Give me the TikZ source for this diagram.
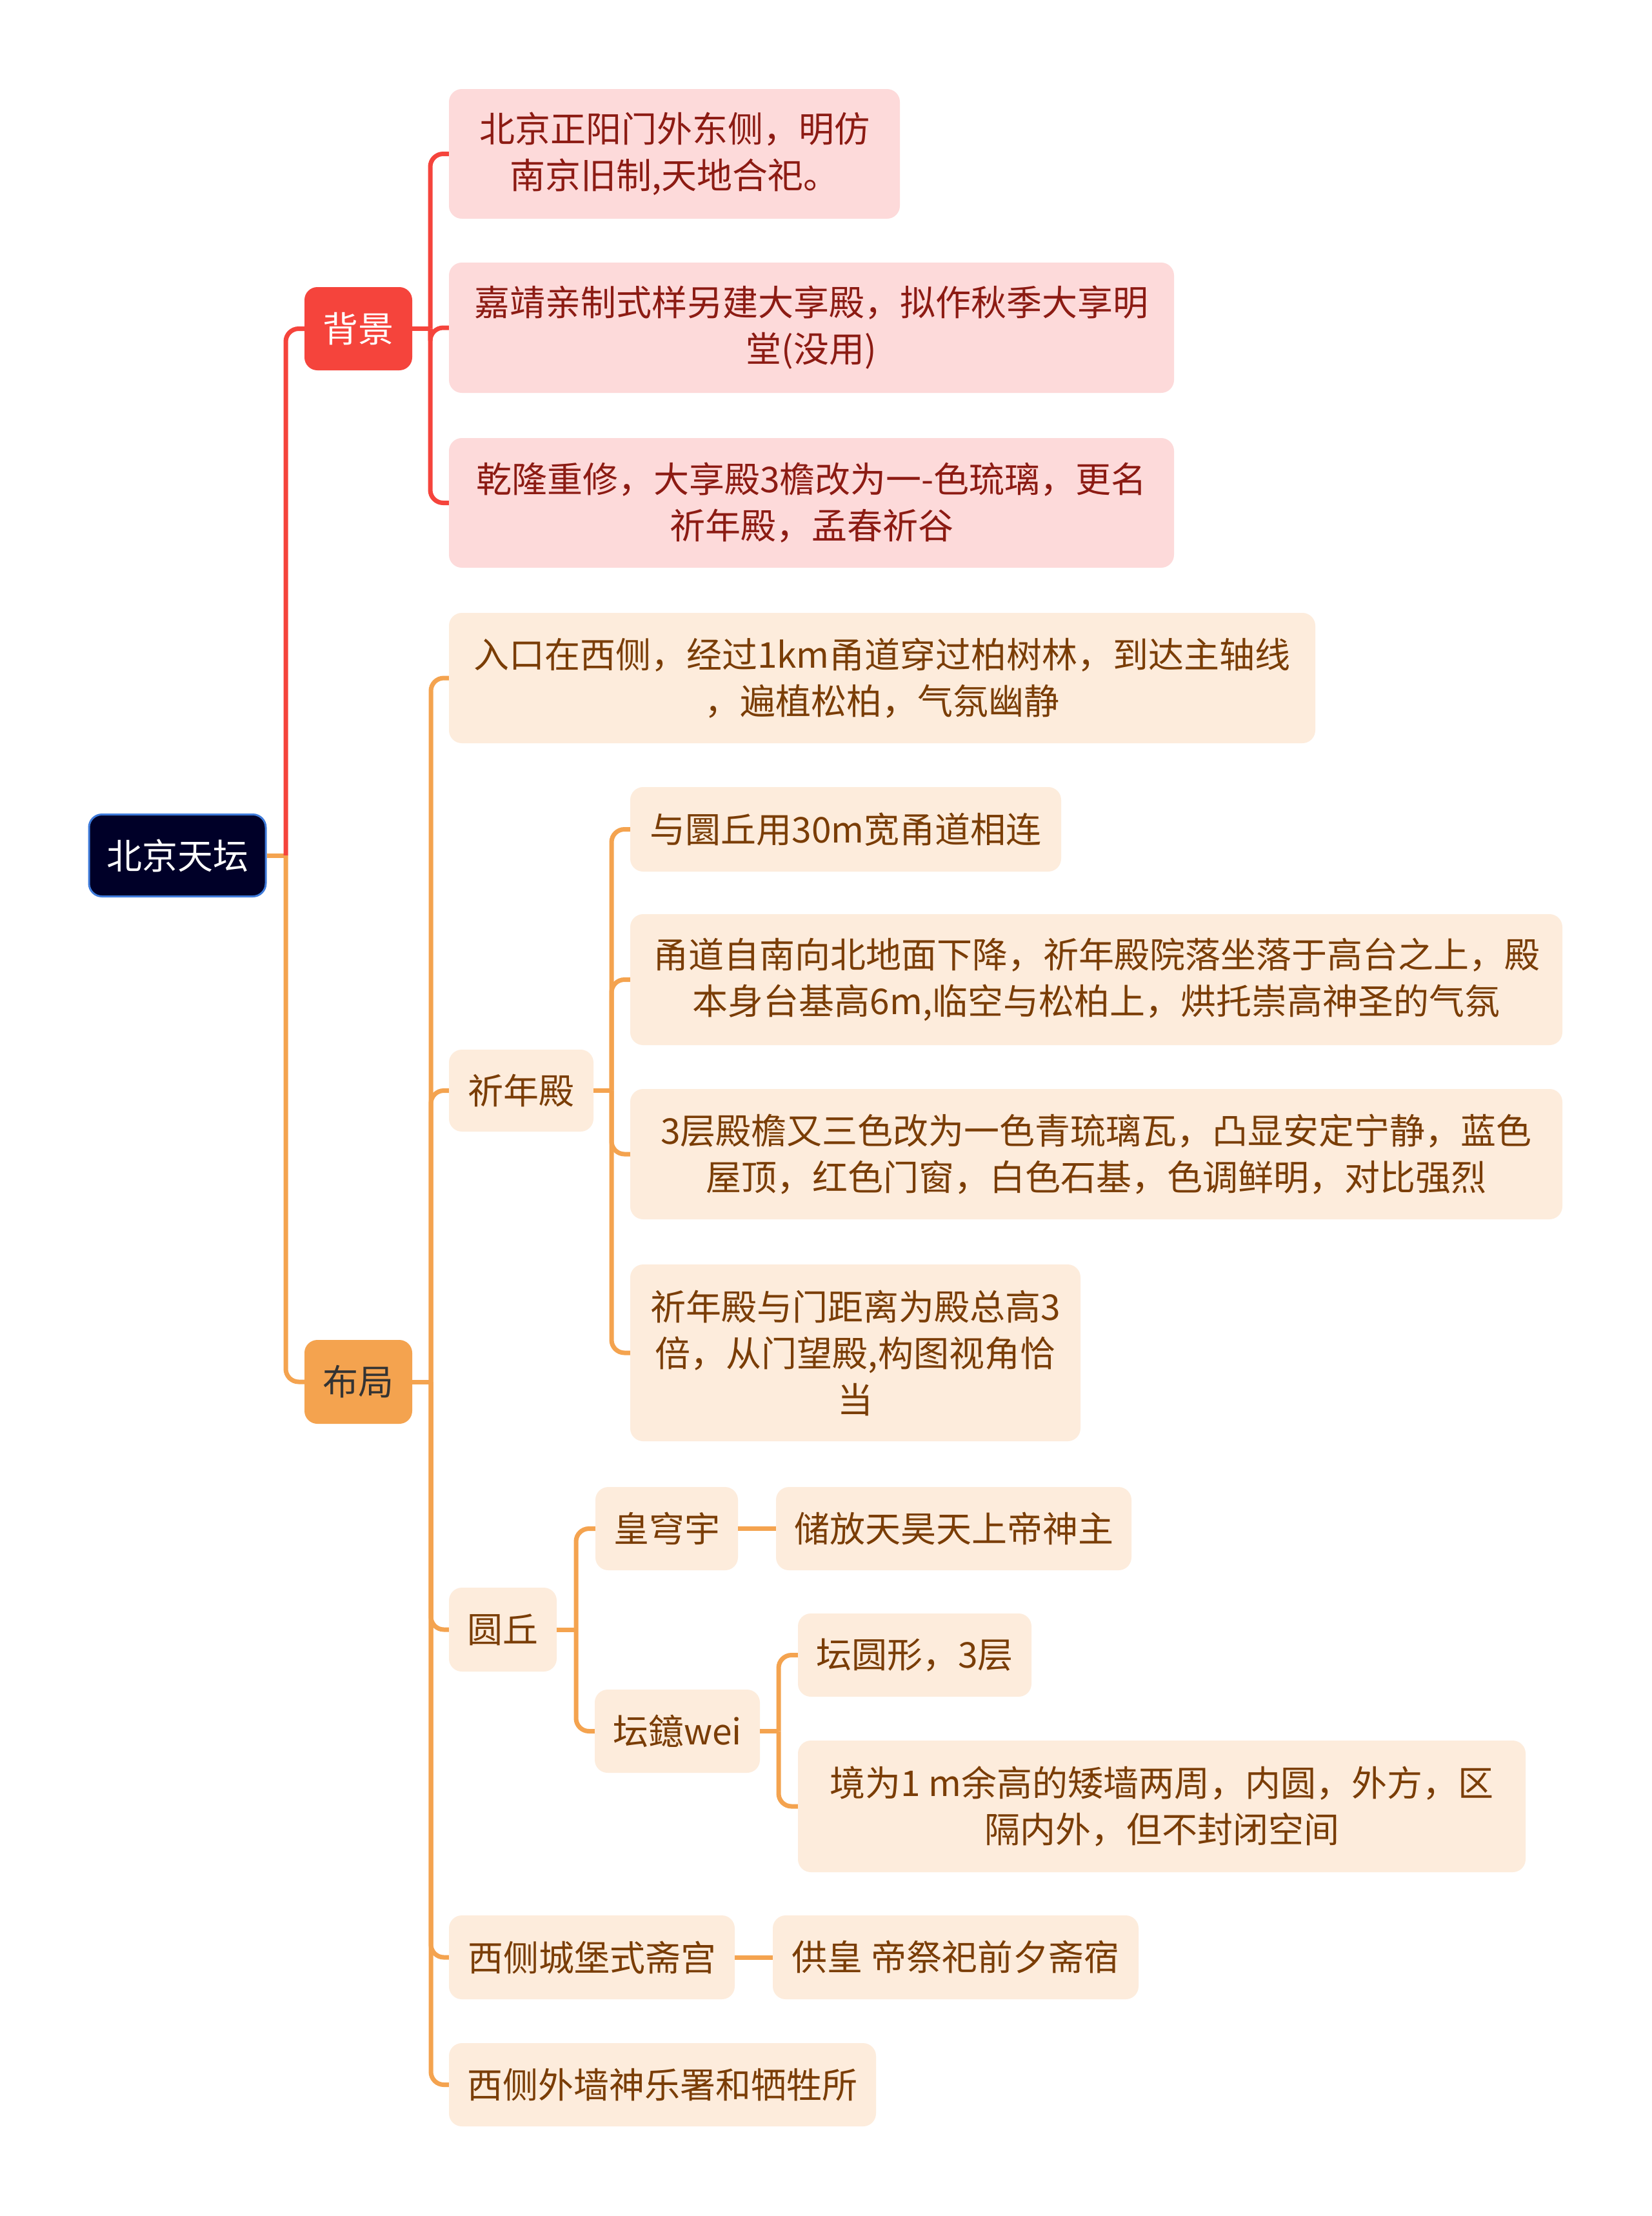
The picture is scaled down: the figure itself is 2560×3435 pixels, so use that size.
\documentclass[tikz,border=0pt]{standalone}
\usepackage{fontspec}
\setmainfont{Noto Sans CJK SC}
\definecolor{rootc}{HTML}{000028}
\definecolor{rootb}{HTML}{3F7BDA}
\definecolor{redc}{HTML}{F5443C}
\definecolor{orc}{HTML}{F4A34F}
\definecolor{pinkc}{HTML}{FDDADA}
\definecolor{pinkt}{HTML}{8C1B13}
\definecolor{creamc}{HTML}{FDECDC}
\definecolor{creamt}{HTML}{7A3D06}
\definecolor{darkt}{HTML}{333333}
\begin{document}
\begin{tikzpicture}[x=1pt,y=-1pt,
  box/.style={rounded corners=20pt, inner sep=0pt, align=center, font=\fontsize{55}{72}\selectfont},
  rootbox/.style={box, fill=rootc, draw=rootb, line width=3pt, text=white},
  redtop/.style={box, fill=redc, text=white},
  ortop/.style={box, fill=orc, text=darkt},
  pinkbox/.style={box, fill=pinkc, text=pinkt},
  creambox/.style={box, fill=creamc, text=creamt},
  redline/.style={draw=redc, line width=7pt, rounded corners=20pt},
  orline/.style={draw=orc, line width=7pt, rounded corners=20pt}]
\useasboundingbox[fill=white] (0,0) rectangle (2560,3435);

% nodes
\node[rootbox, minimum width=274pt, minimum height=127pt] (root) at (275,1326) {北京天坛};
\node[redtop, minimum width=167pt, minimum height=129pt] (bg) at (555.5,509.5) {背景};
\node[ortop, minimum width=167pt, minimum height=130pt] (bj) at (555.5,2142) {布局};

\node[pinkbox, minimum width=699pt, minimum height=201pt] (c1) at (1045.5,238.5) {北京正阳门外东侧，明仿\\南京旧制,天地合祀。};
\node[pinkbox, minimum width=1124pt, minimum height=202pt] (c2) at (1258,508) {嘉靖亲制式样另建大享殿，拟作秋季大享明\\堂(没用)};
\node[pinkbox, minimum width=1124pt, minimum height=201pt] (c3) at (1258,779.5) {乾隆重修，大享殿3檐改为一-色琉璃，更名\\祈年殿，孟春祈谷};

\node[creambox, minimum width=1343pt, minimum height=202pt] (rk) at (1367.5,1051) {入口在西侧，经过1km甬道穿过柏树林，到达主轴线\\，遍植松柏，气氛幽静};
\node[creambox, minimum width=224pt, minimum height=127pt] (qn) at (808,1690.5) {祈年殿};
\node[creambox, minimum width=668pt, minimum height=131pt] (qa) at (1311,1285.5) {与圜丘用30m宽甬道相连};
\node[creambox, minimum width=1445pt, minimum height=203pt] (qb) at (1699.5,1518.5) {甬道自南向北地面下降，祈年殿院落坐落于高台之上，殿\\本身台基高6m,临空与松柏上，烘托崇高神圣的气氛};
\node[creambox, minimum width=1445pt, minimum height=202pt] (qc) at (1699.5,1789) {3层殿檐又三色改为一色青琉璃瓦，凸显安定宁静，蓝色\\屋顶，红色门窗，白色石基，色调鲜明，对比强烈};
\node[creambox, minimum width=698pt, minimum height=274pt] (qd) at (1326,2097) {祈年殿与门距离为殿总高3\\倍，从门望殿,构图视角恰\\当};

\node[creambox, minimum width=167pt, minimum height=130pt] (yq) at (779.5,2526) {圆丘};
\node[creambox, minimum width=221pt, minimum height=129pt] (hq) at (1033.5,2369.5) {皇穹宇};
\node[creambox, minimum width=551pt, minimum height=129pt] (cf) at (1478.5,2369.5) {储放天昊天上帝神主};
\node[creambox, minimum width=256pt, minimum height=129pt] (tj) at (1050,2683.5) {坛鐿wei};
\node[creambox, minimum width=362pt, minimum height=129pt] (ty) at (1418,2565.5) {坛圆形，3层};
\node[creambox, minimum width=1128pt, minimum height=204pt] (jw) at (1801,2800) {境为1 m余高的矮墙两周，内圆，外方，区\\隔内外，但不封闭空间};

\node[creambox, minimum width=443pt, minimum height=130pt] (xc) at (917.5,3034) {西侧城堡式斋宫};
\node[creambox, minimum width=567pt, minimum height=130pt] (gh) at (1481.5,3034) {供皇 帝祭祀前夕斋宿};
\node[creambox, minimum width=662pt, minimum height=129pt] (xw) at (1027,3231.5) {西侧外墙神乐署和牺牲所};

% trunk points
\coordinate (tR) at (443,1326);
\coordinate (tB) at (667,509.5);
\coordinate (tL) at (668,2142);
\coordinate (tQ) at (948,1690.5);
\coordinate (tY) at (893,2526);
\coordinate (tW) at (1207,2683.5);

% connectors
\draw[orline] (root.east) -- (tR);
\draw[redline] (tR) |- (bg.west);
\draw[orline] (tR) |- (bj.west);

\draw[redline] (bg.east) -- (tB);
\draw[redline] (tB) |- (c1.west);
\draw[redline] (tB) |- (c2.west);
\draw[redline] (tB) |- (c3.west);

\draw[orline] (bj.east) -- (tL);
\draw[orline] (tL) |- (rk.west);
\draw[orline] (tL) |- (qn.west);
\draw[orline] (tL) |- (yq.west);
\draw[orline] (tL) |- (xc.west);
\draw[orline] (tL) |- (xw.west);

\draw[orline] (qn.east) -- (tQ);
\draw[orline] (tQ) |- (qa.west);
\draw[orline] (tQ) |- (qb.west);
\draw[orline] (tQ) |- (qc.west);
\draw[orline] (tQ) |- (qd.west);

\draw[orline] (yq.east) -- (tY);
\draw[orline] (tY) |- (hq.west);
\draw[orline] (tY) |- (tj.west);
\draw[orline] (hq.east) -- (cf.west);

\draw[orline] (tj.east) -- (tW);
\draw[orline] (tW) |- (ty.west);
\draw[orline] (tW) |- (jw.west);

\draw[orline] (xc.east) -- (gh.west);
\end{tikzpicture}
\end{document}
